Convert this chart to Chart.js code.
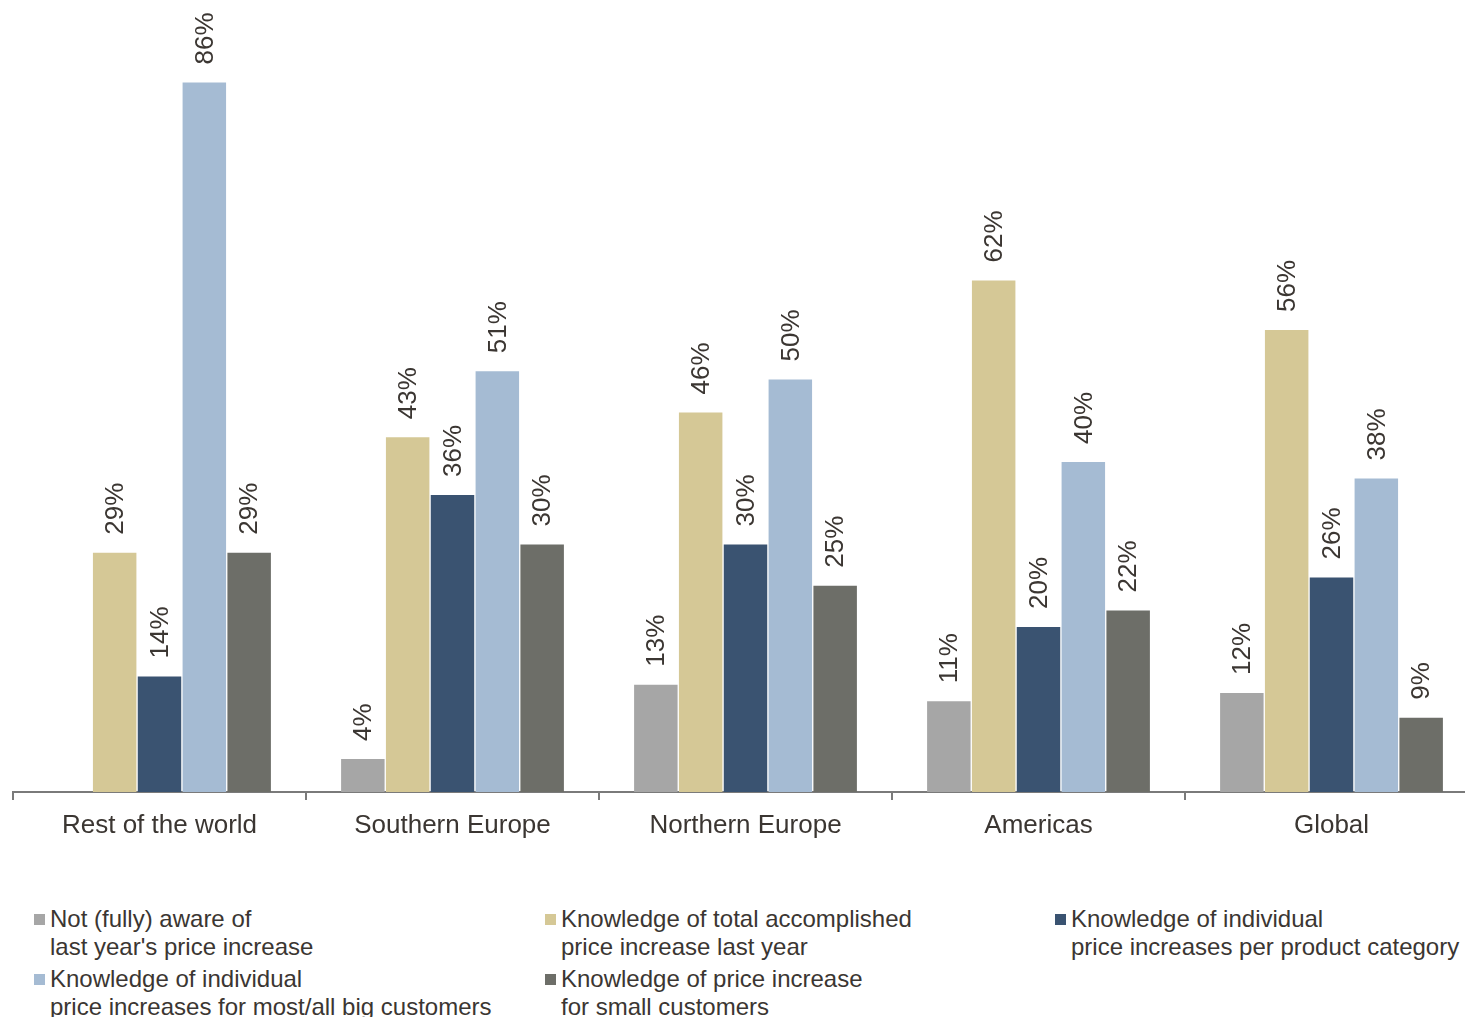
<!DOCTYPE html>
<html>
<head>
<meta charset="utf-8">
<script src="https://cdn.jsdelivr.net/npm/chart.js@4/dist/chart.umd.min.js"></script>
<style>
  html, body { margin: 0; padding: 0; background: #fff; overflow: hidden; }
  #wrap { position: relative; width: 1480px; height: 850px; }
  #legend { position: absolute; left: 0; top: 905px; width: 1465px; font-family: "Liberation Sans", Arial, sans-serif; font-size: 24px; line-height: 28px; color: #3b3632; }
  .item { position: absolute; white-space: nowrap; }
  .box { position: absolute; left: -16px; top: 9px; width: 11px; height: 11px; }
</style>
</head>
<body>
<div id="wrap"><canvas id="awarenessChart"></canvas></div>
<div id="legend"></div>
<script>
// regions and answer shares (%)
const regions = ["Rest of the world", "Southern Europe", "Northern Europe", "Americas", "Global"];
const notAware = [null, 4, 13, 11, 12];
const totalIncrease = [29, 43, 46, 62, 56];
const perCategory = [14, 36, 30, 20, 26];
const bigCustomers = [86, 51, 50, 40, 38];
const smallCustomers = [29, 30, 25, 22, 9];

const seriesNames = [
  ["Not (fully) aware of", "last year's price increase"],
  ["Knowledge of total accomplished", "price increase last year"],
  ["Knowledge of individual", "price increases per product category"],
  ["Knowledge of individual", "price increases for most/all big customers"],
  ["Knowledge of price increase", "for small customers"]
];
const colors = ["#a6a6a6", "#d5c896", "#3a5371", "#a5bbd3", "#6d6e68"];
const textColor = "#3b3632";

const values = [notAware, totalIncrease, perCategory, bigCustomers, smallCustomers];

// percent labels standing upright above each bar
const barLabels = {
  id: "barLabels",
  afterDatasetsDraw(chart) {
    const c = chart.ctx;
    c.save();
    c.fillStyle = textColor;
    c.font = "26px 'Liberation Sans', Arial, sans-serif";
    c.textAlign = "left";
    c.textBaseline = "middle";
    chart.data.datasets.forEach((ds, i) => {
      chart.getDatasetMeta(i).data.forEach((bar, j) => {
        const v = ds.data[j];
        if (v == null) return;
        c.save();
        c.translate(bar.x, bar.y - 18);
        c.rotate(-Math.PI / 2);
        c.fillText(v + "%", 0, 1);
        c.restore();
      });
    });
    c.restore();
  }
};

new Chart(document.getElementById("awarenessChart"), {
  type: "bar",
  data: {
    labels: regions,
    datasets: values.map((d, i) => ({
      label: seriesNames[i].join(" "),
      data: d,
      backgroundColor: colors[i],
      categoryPercentage: 0.765,
      barPercentage: 0.97
    }))
  },
  options: {
    responsive: true,
    maintainAspectRatio: false,
    animation: false,
    layout: { padding: { left: 13, right: 2, top: 0, bottom: 0 } },
    plugins: { legend: { display: false }, tooltip: { enabled: false } },
    scales: {
      x: {
        afterFit(scale) { scale.height = 58; },
        grid: { display: true, offset: true, drawOnChartArea: false, drawTicks: true, tickLength: 8, color: "#7a7a7a", lineWidth: 2 },
        border: { display: true, color: "#7a7a7a", width: 2 },
        ticks: { color: textColor, padding: 10, font: { family: "'Liberation Sans', Arial, sans-serif", size: 26 } }
      },
      y: { display: false, min: 0, max: 96 }
    }
  },
  plugins: [barLabels]
});

// legend in three columns, two lines per entry
const legendPos = [[50, 0], [561, 0], [1071, 0], [50, 60], [561, 60]];
const legend = document.getElementById("legend");
seriesNames.forEach((lines, i) => {
  const el = document.createElement("div");
  el.className = "item";
  el.style.left = legendPos[i][0] + "px";
  el.style.top = legendPos[i][1] + "px";
  el.innerHTML = '<span class="box" style="background:' + colors[i] + '"></span>' + lines.join("<br>");
  legend.appendChild(el);
});
</script>
</body>
</html>
